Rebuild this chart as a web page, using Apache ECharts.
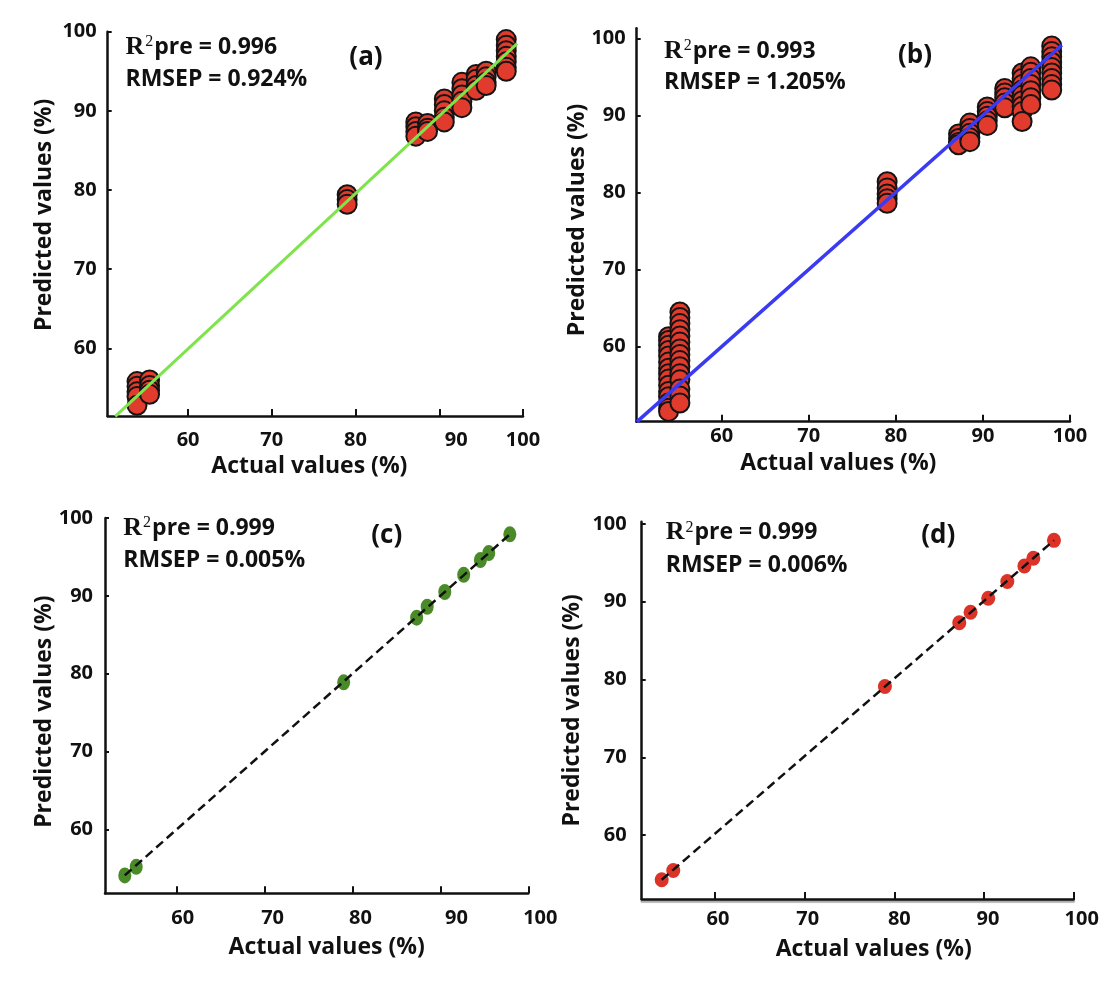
<!DOCTYPE html>
<html><head><meta charset="utf-8">
<script src="https://cdn.jsdelivr.net/npm/echarts@6/dist/echarts.min.js"></script>
<style>html,body{margin:0;padding:0;background:#fff}#c{width:1116px;height:984px}</style>
</head><body><div id="c"></div>
<script>
// ---------- data ----------
const tickValues = [60, 70, 80, 90, 100];
const panelLabels = ['(a)', '(b)', '(c)', '(d)'];
const r2Values = ['0.996', '0.993', '0.999', '0.999'];
const rmsepValues = ['0.924%', '1.205%', '0.005%', '0.006%'];
const xTitle = 'Actual values (%)';
const yTitle = 'Predicted values (%)';

// (a) clusters: actual value of each cluster and predicted values in it
const clusterXA = [53.9, 55.4, 79.0, 87.2, 88.6, 90.6, 92.7, 94.4, 95.6, 98.0];
const clusterYA = [
  [55.8, 55.2, 54.5, 53.9, 52.8],
  [56.0, 55.3, 54.7, 54.2],
  [79.4, 78.8, 78.2],
  [88.6, 88.0, 87.4, 86.8],
  [88.4, 87.8, 87.4],
  [91.5, 90.8, 90.0, 89.2, 88.6],
  [93.6, 92.8, 92.0, 91.2, 90.4],
  [94.6, 94.0, 93.2, 92.6],
  [95.0, 94.3, 93.6, 93.2],
  [99.0, 98.3, 97.6, 96.9, 96.2, 95.5, 95.0]
];
const fitLineA = [[51.3, 51.4], [99.3, 98.5]];

// (b)
const clusterXB = [53.9, 55.2, 79.0, 87.2, 88.5, 90.5, 92.5, 94.5, 95.5, 97.9];
const clusterYB = [
  [61.3, 60.8, 60.2, 59.5, 58.8, 58.0, 57.2, 56.5, 55.8, 55.0, 54.2, 53.5, 52.7, 52.0, 51.6],
  [64.5, 63.8, 63.0, 62.2, 61.4, 60.6, 59.7, 59.0, 58.2, 57.4, 56.5, 55.7, 54.5, 53.6, 52.7],
  [81.4, 80.6, 79.8, 79.2, 78.6],
  [87.6, 87.0, 86.5, 86.2],
  [89.0, 88.3, 87.7, 87.1, 86.6],
  [91.1, 90.5, 89.9, 89.3, 88.7],
  [93.5, 92.9, 92.3, 91.6, 91.0],
  [95.5, 94.8, 94.0, 93.3, 92.6, 91.9, 91.2, 90.5, 89.2],
  [96.3, 95.6, 94.8, 94.0, 93.2, 92.3, 91.4],
  [99.0, 98.3, 97.6, 96.9, 96.2, 95.5, 94.8, 94.0, 93.3]
];
const fitLineB = [[50.25, 50.25], [99.05, 99.1]];

// (c)
const actualC = [54.1, 55.4, 79.0, 87.3, 88.5, 90.5, 92.65, 94.55, 95.5, 97.9];
const predC   = [54.1, 55.2, 78.9, 87.2, 88.6, 90.5, 92.7, 94.6, 95.5, 97.9];
const fitLineC = [[54.1, 54.1], [97.9, 97.9]];

// (d)
const actualD = [54.06, 55.35, 78.95, 87.24, 88.5, 90.47, 92.6, 94.5, 95.5, 97.8];
const predD   = [54.24, 55.44, 79.1, 87.3, 88.65, 90.45, 92.6, 94.6, 95.6, 97.9];
const fitLineD = [[54.06, 54.24], [97.8, 97.9]];

// ---------- helpers ----------
function fromClusters(xs, ys) {
  const out = [];
  xs.forEach((x, i) => ys[i].forEach(y => out.push([x, y])));
  return out;
}
function zip(a, b) { return a.map((v, i) => [v, b[i]]); }

const FONT = '"Open Sans", "Liberation Sans", sans-serif';
const INK = '#111';
const labelFont = { fontFamily: FONT, fontWeight: 'bold', fontSize: 20, color: INK };

function shiftFormatter(shifts) {
  const rich = {};
  tickValues.forEach(v => {
    rich['p' + v] = Object.assign({}, labelFont, { padding: [0, 0, 0, 2 * (shifts[v] || 0)] });
  });
  return {
    formatter: v => '{p' + v + '|' + v + '}',
    rich: rich
  };
}

const panels = [
  { grid: { left: 107.7, top: 31.7, width: 415.3, height: 384.3 },
    x: [50.4, 100], y: [51.45, 100],
    xLabelMargin: 14, yLabelMargin: 11, xShift: { 90: 17 }, yPad: 0,
    xNameGap: 39, xNamePad: [0, 12, 0, 0], yNameGap: 52, yNamePad: [0, 0, 0, 18] },
  { grid: { left: 636.7, top: 28.3, width: 433.3, height: 393.4 },
    x: [50.24, 100], y: [50.27, 101.3],
    xLabelMargin: 5, yLabelMargin: 11, xShift: {}, yPad: 5,
    xNameGap: 30, xNamePad: [0, 30, 0, 0], yNameGap: 48, yNamePad: [0, 0, 0, 10] },
  { grid: { left: 105, top: 518, width: 423.3, height: 375.3 },
    x: [51.85, 100], y: [51.8, 100],
    xLabelMargin: 15, yLabelMargin: 12, xShift: { 60: 6, 70: 8, 80: 8, 90: 16, 100: 12 }, yPad: 0,
    xNameGap: 43, xNamePad: [0, 0, 0, 20], yNameGap: 49, yNamePad: [0, 12, 0, 0] },
  { grid: { left: 641.7, top: 521.7, width: 432, height: 377.3 },
    x: [51.83, 100], y: [51.77, 100.3],
    xLabelMargin: 10, yLabelMargin: 15, xShift: { 60: 3, 70: 3, 80: 5, 90: 4, 100: 8 }, yPad: 14,
    xNameGap: 39, xNamePad: [0, 0, 0, 32], yNameGap: 58, yNamePad: [0, 0, 0, 0], shadow: true }
];

const grids = [], xAxes = [], yAxes = [];
panels.forEach((p, i) => {
  grids.push(Object.assign({ outerBoundsMode: 'none', containLabel: false }, p.grid));
  const axisLine = { show: true, onZero: false, lineStyle: { color: INK, width: 2.5 } };
  if (p.shadow) axisLine.lineStyle = Object.assign({}, axisLine.lineStyle, { shadowColor: 'rgba(0,0,0,0.35)', shadowOffsetY: 2, shadowBlur: 1 });
  const xl = shiftFormatter(p.xShift);
  xAxes.push({
    type: 'value', gridIndex: i, min: p.x[0], max: p.x[1],
    axisLine: axisLine,
    axisTick: { show: true, inside: true, length: 7, customValues: tickValues, lineStyle: { color: INK, width: 2 } },
    axisLabel: Object.assign({ show: true, margin: p.xLabelMargin, customValues: tickValues }, labelFont, xl),
    splitLine: { show: false },
    name: xTitle, nameLocation: 'middle', nameGap: p.xNameGap, nameMoveOverlap: false,
    nameTextStyle: { fontFamily: FONT, fontWeight: 'bold', fontSize: 23, color: INK, padding: p.xNamePad }
  });
  yAxes.push({
    type: 'value', gridIndex: i, min: p.y[0], max: p.y[1],
    axisLine: { show: true, onZero: false, lineStyle: { color: INK, width: 2.5 } },
    axisTick: { show: true, inside: true, length: 4, customValues: tickValues, lineStyle: { color: INK, width: 2 } },
    axisLabel: Object.assign({ show: true, margin: p.yLabelMargin, customValues: tickValues, padding: [p.yPad, 0, 0, 0] }, labelFont),
    splitLine: { show: false },
    name: yTitle, nameLocation: 'middle', nameRotate: 90, nameGap: p.yNameGap, nameMoveOverlap: false,
    nameTextStyle: { fontFamily: FONT, fontWeight: 'bold', fontSize: 23, color: INK, padding: p.yNamePad }
  });
});

const redBordered = { color: '#e03b2c', borderColor: '#141414', borderWidth: 2, opacity: 1 };
const series = [
  { type: 'scatter', xAxisIndex: 0, yAxisIndex: 0, data: fromClusters(clusterXA, clusterYA), symbolSize: 19, itemStyle: redBordered, z: 2 },
  { type: 'line', xAxisIndex: 0, yAxisIndex: 0, data: fitLineA, showSymbol: false, symbol: 'none', lineStyle: { color: '#7fe44c', width: 3 }, z: 3 },
  { type: 'scatter', xAxisIndex: 1, yAxisIndex: 1, data: fromClusters(clusterXB, clusterYB), symbolSize: 19, itemStyle: redBordered, z: 2 },
  { type: 'line', xAxisIndex: 1, yAxisIndex: 1, data: fitLineB, showSymbol: false, symbol: 'none', lineStyle: { color: '#3a3af2', width: 3.5 }, z: 3 },
  { type: 'scatter', xAxisIndex: 2, yAxisIndex: 2, data: zip(actualC, predC), symbolSize: [13, 16], itemStyle: { color: '#4a8a28', opacity: 1 }, z: 2 },
  { type: 'line', xAxisIndex: 2, yAxisIndex: 2, data: fitLineC, showSymbol: false, symbol: 'none', lineStyle: { color: INK, width: 2.5, type: [9, 5] }, z: 3 },
  { type: 'scatter', xAxisIndex: 3, yAxisIndex: 3, data: zip(actualD, predD), symbolSize: [14, 15], itemStyle: { color: '#dc3329', opacity: 1 }, z: 2 },
  { type: 'line', xAxisIndex: 3, yAxisIndex: 3, data: fitLineD, showSymbol: false, symbol: 'none', lineStyle: { color: INK, width: 2.5, type: [9, 5] }, z: 3 }
];

// annotation placement (pixels)
const annot = [
  { x: 125.5, y1: 47, y2: 79.5, lx: 366, ly: 57.5 },
  { x: 664, y1: 51, y2: 82.7, lx: 915, ly: 56 },
  { x: 123.3, y1: 528, y2: 560, lx: 386.7, ly: 536 },
  { x: 665.7, y1: 532.5, y2: 565, lx: 938.3, ly: 536 }
];
const graphic = [];
annot.forEach((a, i) => {
  graphic.push({
    type: 'text', x: a.x, y: a.y1, z: 10,
    style: {
      text: '{r|R}{s|2}{t|pre = ' + r2Values[i] + '}',
      align: 'left', textAlign: 'left', verticalAlign: 'middle', textVerticalAlign: 'middle',
      rich: {
        r: { fontFamily: '"Liberation Serif", serif', fontWeight: 'bold', fontSize: 26, fill: INK },
        s: { fontFamily: '"Liberation Serif", serif', fontSize: 16, fill: INK, verticalAlign: 'top', padding: [0, 1, 0, 1] },
        t: { fontFamily: FONT, fontWeight: 'bold', fontSize: 23, fill: INK }
      }
    }
  });
  graphic.push({
    type: 'text', x: a.x, y: a.y2, z: 10,
    style: {
      text: 'RMSEP = ' + rmsepValues[i],
      font: 'bold 23px ' + FONT, fill: INK,
      align: 'left', textAlign: 'left', verticalAlign: 'middle', textVerticalAlign: 'middle'
    }
  });
  graphic.push({
    type: 'text', x: a.lx, y: a.ly, z: 10,
    style: {
      text: panelLabels[i],
      font: 'bold 26px ' + FONT, fill: INK,
      align: 'center', textAlign: 'center', verticalAlign: 'middle', textVerticalAlign: 'middle'
    }
  });
});

const chart = echarts.init(document.getElementById('c'), null, { renderer: 'canvas' });
chart.setOption({
  backgroundColor: '#ffffff',
  animation: false,
  grid: grids,
  xAxis: xAxes,
  yAxis: yAxes,
  series: series,
  graphic: graphic
});
</script>
</body></html>
